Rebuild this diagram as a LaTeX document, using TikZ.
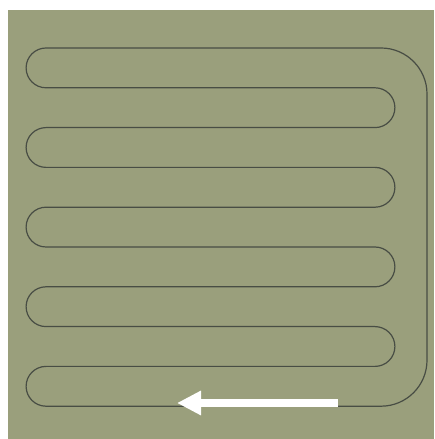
\documentclass[tikz,border=0pt]{standalone}
\usetikzlibrary{arrows.meta}
\definecolor{fieldgreen}{RGB}{154,159,124}
\definecolor{pipegray}{RGB}{72,77,68}

\begin{document}
\begin{tikzpicture}[
    x=1pt, y=1pt,
    field/.style={fill=fieldgreen, draw=none},
    pipe/.style={draw=pipegray, line width=1.2pt},
    flow/.style={-{Triangle[length=24pt, width=23pt]}, white, line width=7.5pt}
]
\useasboundingbox (0,0) rectangle (434,439);

% ---- floor slab ----
\fill[field] (8,0) rectangle (434,429);

% ---- heating loop ----
\draw[pipe] (46,391) -- (381,391)
    arc[start angle=90, end angle=0, radius=46] -- (427,78.8)
    arc[start angle=0, end angle=-90, radius=46] -- (46,32.8)
    arc[start angle=270, end angle=90, radius=19.9] -- (375,72.6)
    arc[start angle=-90, end angle=90, radius=19.9] -- (46,112.4)
    arc[start angle=270, end angle=90, radius=19.9] -- (375,152.2)
    arc[start angle=-90, end angle=90, radius=19.9] -- (46,192)
    arc[start angle=270, end angle=90, radius=19.9] -- (375,231.8)
    arc[start angle=-90, end angle=90, radius=19.9] -- (46,271.6)
    arc[start angle=270, end angle=90, radius=19.9] -- (375,311.4)
    arc[start angle=-90, end angle=90, radius=19.9] -- (46,351.2)
    arc[start angle=270, end angle=90, radius=19.9] -- cycle;

% ---- flow direction ----
\coordinate (flowstart) at (338,36);
\coordinate (flowend) at (177,36);
\draw[flow] (flowstart) -- (flowend);
\end{tikzpicture}
\end{document}
